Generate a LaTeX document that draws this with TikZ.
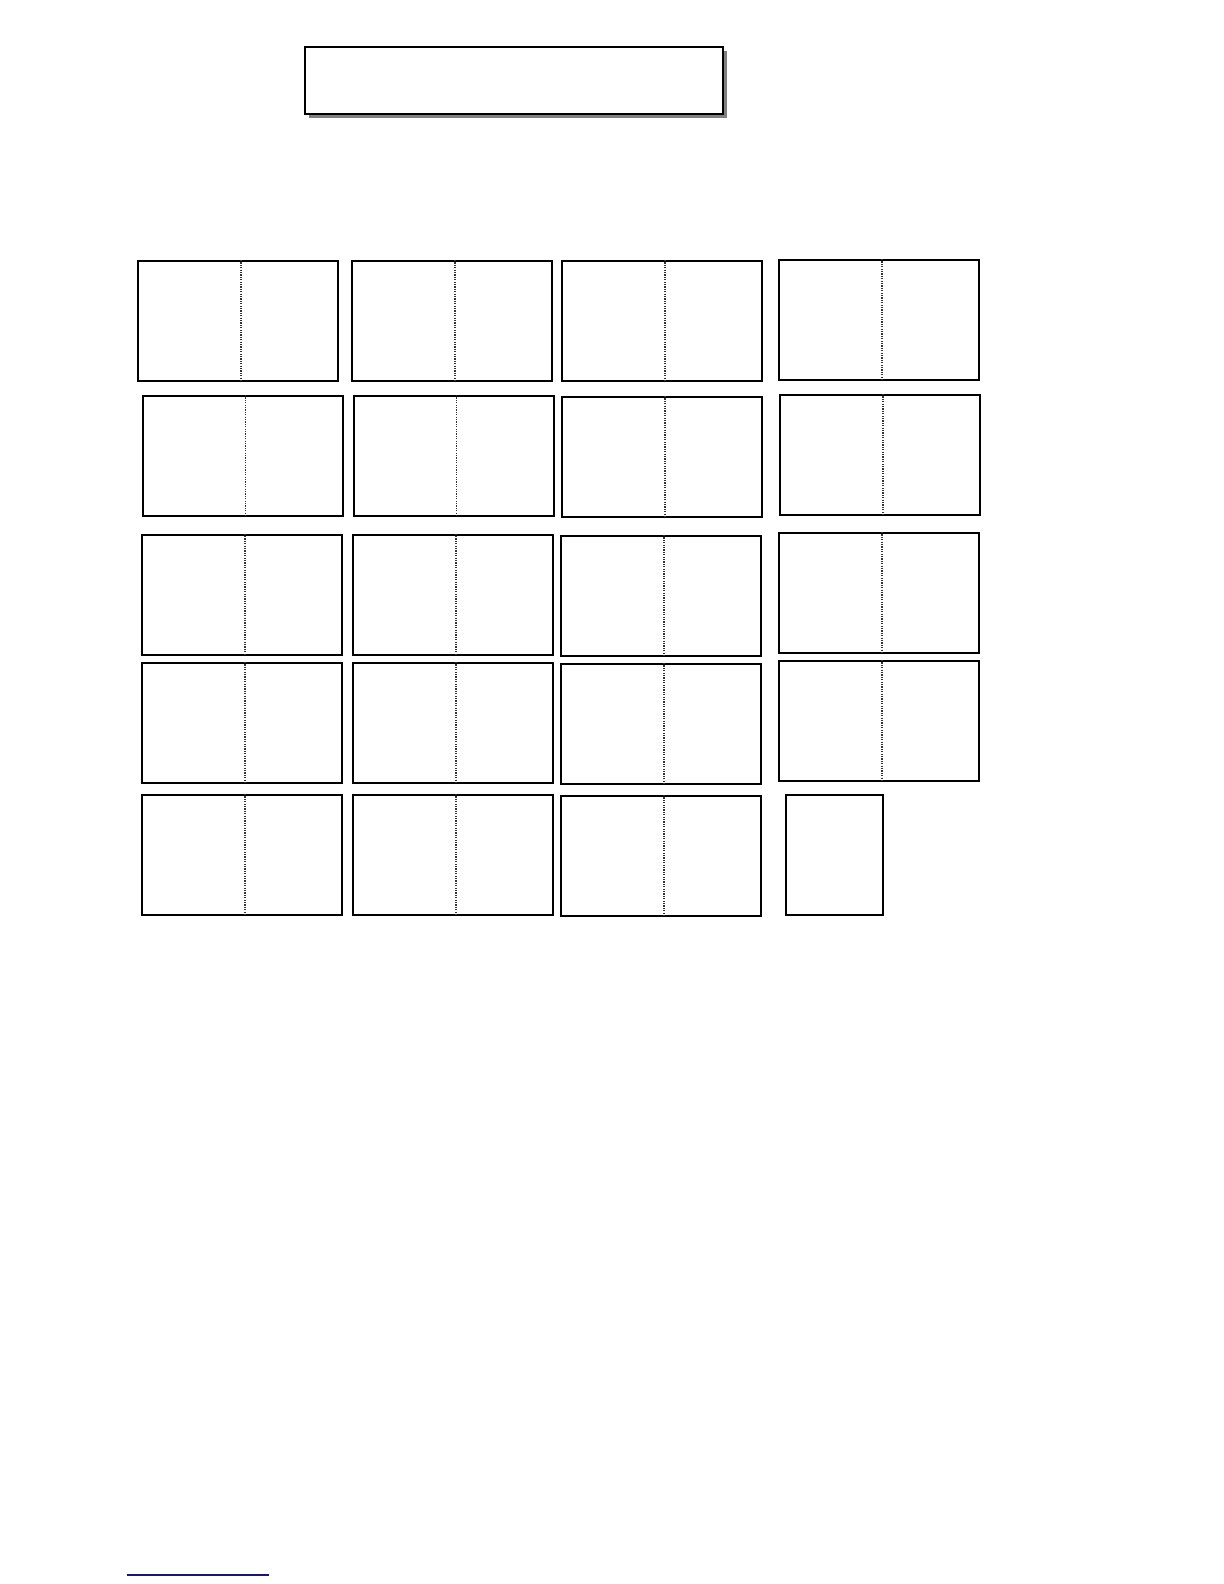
\documentclass[tikz,border=0pt]{standalone}
\usetikzlibrary{shadows}
\definecolor{navyline}{RGB}{20,20,130}
\tikzset{
  card/.style={draw, line width=1pt, minimum width=100pt, minimum height=60pt, inner sep=0pt},
  slim card/.style={card, minimum width=48.5pt},
  fold/.style={line width=0.6pt, dash pattern=on 0.6pt off 0.6pt, black!80},
  titlebox/.style={draw, line width=1pt, fill=white, minimum width=209pt, minimum height=33.5pt,
    inner sep=0pt, drop shadow={shadow xshift=2pt, shadow yshift=-2pt, fill=black!50, opacity=1}}
}
\begin{document}
\begin{tikzpicture}[x=0.5pt,y=-0.5pt]
  \useasboundingbox (0,0) rectangle (1224,1584);

  % title
  \node[titlebox] (title) at (514,80.5) {};

  % cards, row by row
  \foreach \name/\cx/\cy in {a1/238/321, a2/452/321, a3/662/321, a4/879/320,
                             b1/242.5/456, b2/453.5/456, b3/662/457, b4/880/455,
                             c1/242/594.5, c2/453/594.5, c3/661/596, c4/879/593,
                             d1/242/723, d2/453/723, d3/661/724, d4/879/721,
                             e1/242/855, e2/453/855, e3/661/856}{
    \node[card] (\name) at (\cx,\cy) {};
    \draw[fold] ([xshift=1.5pt]\name.north) -- ([xshift=1.5pt]\name.south);
  }
  \node[slim card] (e4) at (834.5,855) {};

  % rule at the foot of the page
  \coordinate (ruleL) at (127,1575);
  \coordinate (ruleR) at (269,1575);
  \draw[navyline, line width=0.8pt] (ruleL) -- (ruleR);
\end{tikzpicture}
\end{document}
